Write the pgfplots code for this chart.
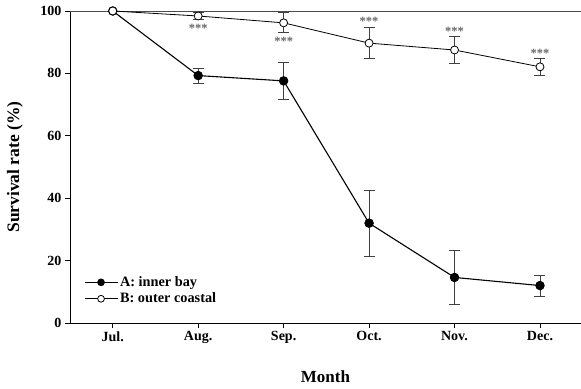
\documentclass[border=0pt]{standalone}
\usepackage{pgfplots}
\pgfplotsset{compat=1.18}
\usepackage{fontspec}
\setmainfont{Liberation Serif}
\begin{document}
\begin{tikzpicture}
\begin{axis}[
 scale only axis, width=511pt, height=312pt,
 xmin=-0.5, xmax=5.48, ymin=0, ymax=100,
 axis x line*=bottom, axis y line*=left,
 axis line style={line width=0.8pt,-},
 tick align=outside, major tick length=5pt,
 tick style={line width=0.8pt, black},
 xtick={0,...,5}, xticklabels={Jul.,Aug.,Sep.,Oct.,Nov.,Dec.},
 ytick={0,20,...,100},
 /pgf/number format/assume math mode=true,
 tick label style={font=\fontsize{14}{16}\selectfont\bfseries},
 xlabel={Month}, ylabel={Survival rate (\%)},
 every axis x label/.style={at={(axis description cs:0.5,-0.173)},anchor=center,font=\fontsize{17}{19}\selectfont\bfseries},
 every axis y label/.style={at={(axis description cs:-0.108,0.5)},anchor=center,rotate=90,font=\fontsize{17.5}{19}\selectfont\bfseries},
 legend style={draw=none, fill=none, at={(axis description cs:0.027,0.104)}, anchor=west, font=\fontsize{14.3}{16}\selectfont\bfseries, row sep=1pt, inner sep=0pt},
 legend cell align=left,
 legend image code/.code={\draw[mark repeat=2,mark phase=2,mark size=3.4pt] plot coordinates {(0pt,0pt) (16.5pt,0pt) (33pt,0pt)};},
 clip=false,
]
\draw[line width=0.8pt, black!70] (rel axis cs:0,1) -- (rel axis cs:1,1);
% error bars A
\addplot[draw=none, forget plot, error bars/.cd, y dir=both, y explicit,
  error bar style={line width=0.8pt, black!75},
  error mark options={rotate=90, mark size=5.5pt, line width=0.8pt, black!75}]
  coordinates {(1,79.3) +- (0,2.4) (2,77.6) +- (0,6.0) (3,32.0) +- (0,10.5) (4,14.6) +- (0,8.6) (5,12.0) +- (0,3.4)};
% error bars B
\addplot[draw=none, forget plot, error bars/.cd, y dir=both, y explicit,
  error bar style={line width=0.8pt, black!75},
  error mark options={rotate=90, mark size=5.5pt, line width=0.8pt, black!75}]
  coordinates {(1,98.4) +- (0,1.2) (2,96.2) +- (0,3.2) (3,89.7) +- (0,5.0) (4,87.5) +- (0,4.2) (5,82.1) +- (0,2.8)};
\addplot[black, line width=1.1pt, mark=*, mark size=4.3pt, mark options={fill=black, line width=0.8pt}]
  coordinates {(0,100) (1,79.3) (2,77.6) (3,32.0) (4,14.6) (5,12.0)};
\addlegendentry{A: inner bay}
\addplot[black, line width=0.8pt, mark=*, mark size=4pt, mark options={fill=white, line width=0.8pt}]
  coordinates {(0,100) (1,98.4) (2,96.2) (3,89.7) (4,87.5) (5,82.1)};
\addlegendentry{B: outer coastal}
\node[text=black!60, font=\fontsize{12.5}{12}\selectfont\bfseries, inner sep=0pt] at (axis cs:1,94.4) {***};
\node[text=black!60, font=\fontsize{12.5}{12}\selectfont\bfseries, inner sep=0pt] at (axis cs:2,90.2) {***};
\node[text=black!60, font=\fontsize{12.5}{12}\selectfont\bfseries, inner sep=0pt] at (axis cs:3,96.6) {***};
\node[text=black!60, font=\fontsize{12.5}{12}\selectfont\bfseries, inner sep=0pt] at (axis cs:4,93.4) {***};
\node[text=black!60, font=\fontsize{12.5}{12}\selectfont\bfseries, inner sep=0pt] at (axis cs:5,86.3) {***};
\end{axis}
\pgfresetboundingbox
\path[use as bounding box] ([shift={(-70pt,-65pt)}]current axis.south west) rectangle ([shift={(0pt,11pt)}]current axis.north east);
\end{tikzpicture}
\end{document}
